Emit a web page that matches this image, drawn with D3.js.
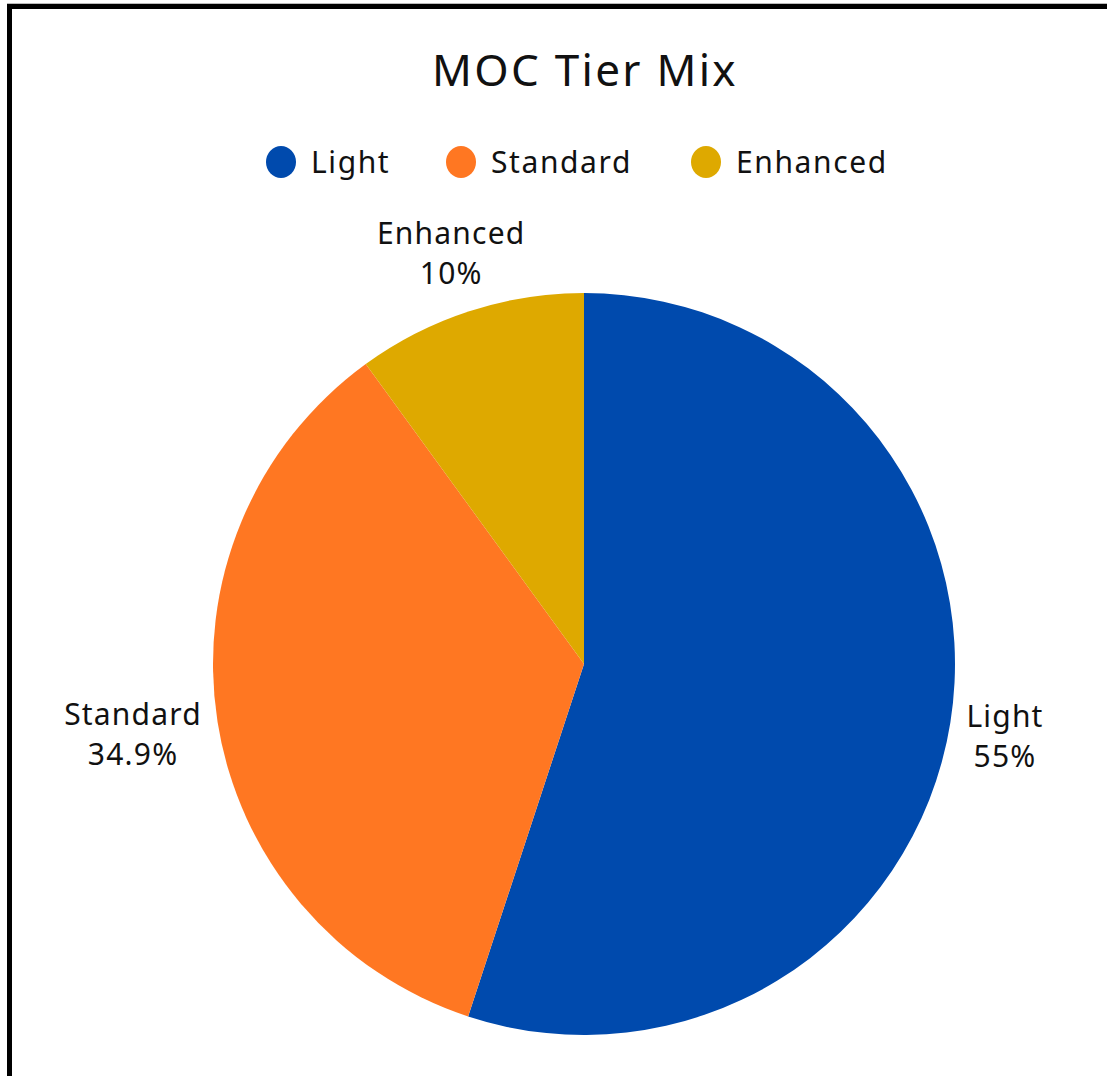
<!DOCTYPE html>
<html>
<head>
<meta charset="utf-8">
<script src="https://cdn.jsdelivr.net/npm/d3@7"></script>
<style>
  html, body { margin: 0; padding: 0; background: #fff; }
  svg { display: block; }
</style>
</head>
<body>
<svg id="chart" width="1107" height="1076"></svg>
<script>
const title = "MOC Tier Mix";
const categories = ["Light", "Standard", "Enhanced"];
const values = [55, 34.9, 10];
const labels = ["55%", "34.9%", "10%"];
const colors = ["#004AAD", "#FF7722", "#DEA900"];

const W = 1107, H = 1076;
const FONT = "'Noto Sans', 'Open Sans', sans-serif";
const svg = d3.select("#chart");

// frame (cropped bordered panel)
svg.append("rect").attr("x", 7).attr("y", 3).attr("width", W).attr("height", 1).attr("fill", "#bbb");
svg.append("rect").attr("x", 9.5).attr("y", 6.5).attr("width", W + 20).attr("height", H + 20)
  .attr("fill", "#fff").attr("stroke", "#000").attr("stroke-width", 5);

// title
svg.append("text").attr("x", 585).attr("y", 86).attr("text-anchor", "middle")
  .attr("font-family", FONT).attr("font-size", 44).attr("letter-spacing", 2.3)
  .attr("fill", "#111").text(title);

// legend
const legendX = d3.scaleOrdinal().domain(categories).range([281, 461, 706]);
const lg = svg.append("g").selectAll("g").data(categories).join("g")
  .attr("transform", d => `translate(${legendX(d)},162)`);
lg.append("ellipse").attr("rx", 15).attr("ry", 16).attr("fill", (d, i) => colors[i]);
lg.append("text").attr("x", 30).attr("y", 11).attr("font-family", FONT).attr("font-size", 30)
  .attr("letter-spacing", 1.6).attr("fill", "#111").text(d => d);

// pie
const cx = 584, cy = 664, r = 371;
const pie = d3.pie().sort(null).value(d => d.v);
const data = categories.map((c, i) => ({ c, v: values[i], lab: labels[i], col: colors[i] }));
const arcs = pie(data);
const arc = d3.arc().innerRadius(0).outerRadius(r);
const g = svg.append("g").attr("transform", `translate(${cx},${cy})`);
g.selectAll("path").data(arcs).join("path").attr("d", arc).attr("fill", d => d.data.col);

// labels (two separate text lines per slice)
const R = 388, lineH = 40, fs = 30;
const lab = g.selectAll("g.lab").data(arcs).join("g").attr("class", "lab");
lab.each(function(d) {
  const a = (d.startAngle + d.endAngle) / 2;
  const dx = Math.sin(a), dy = -Math.cos(a);
  const el = d3.select(this);
  const mk = (txt) => el.append("text").attr("font-family", FONT).attr("font-size", fs)
    .attr("letter-spacing", 1.2).attr("fill", "#111").attr("text-anchor", "middle").text(txt);
  const t1 = mk(d.data.c), t2 = mk(d.data.lab);
  const w = Math.max(t1.node().getBBox().width, t2.node().getBBox().width);
  const h = 94;
  const px = R * dx + Math.sign(dx) * Math.pow(Math.abs(dx), 1.5) * w / 2;
  const py = R * dy + dy * h / 2 + 7;
  t1.attr("x", px).attr("y", py - 4 - lineH / 2 + fs * 0.36);
  t2.attr("x", px).attr("y", py - 4 + lineH / 2 + fs * 0.36);
});
</script>
</body>
</html>
